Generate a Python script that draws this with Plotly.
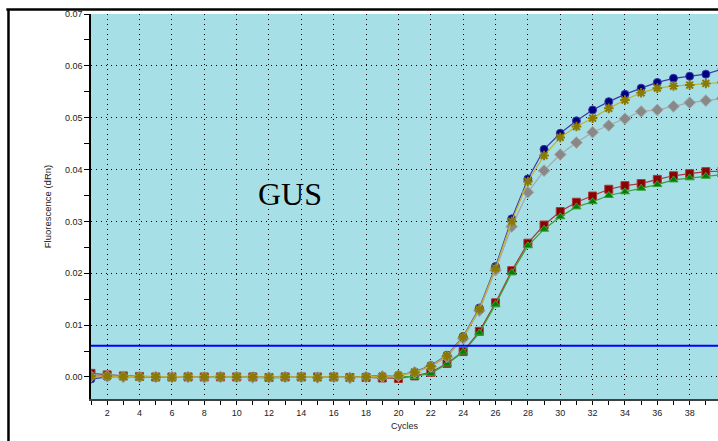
import plotly.graph_objects as go

cycles = list(range(1, 41))

blue = [-0.0004, 0.0000, 0.0001, 0.0000, -0.0001, 0.0000, 0.0001, 0.0000, 0.0001, 0.0000,
        0.0001, 0.0000, 0.0001, 0.0000, 0.0000, 0.0000, 0.0000, 0.0001, 0.0002, 0.0003,
        0.0010, 0.0022, 0.0042, 0.0078, 0.0133, 0.0213, 0.0305, 0.0382, 0.0439, 0.0470,
        0.0494, 0.0515, 0.0531, 0.0545, 0.0557, 0.0568, 0.0576, 0.0580, 0.0584, 0.0594]
olive = [0.0002, 0.0002, 0.0001, 0.0000, 0.0000, -0.0001, 0.0000, 0.0000, 0.0000, 0.0000,
         0.0000, -0.0001, 0.0000, 0.0000, -0.0001, 0.0000, -0.0001, 0.0000, 0.0001, 0.0003,
         0.0009, 0.0021, 0.0041, 0.0077, 0.0131, 0.0210, 0.0300, 0.0377, 0.0427, 0.0462,
         0.0483, 0.0499, 0.0518, 0.0534, 0.0548, 0.0557, 0.0561, 0.0563, 0.0566, 0.0568]
gray = [0.0001, 0.0001, 0.0000, 0.0000, 0.0000, 0.0000, 0.0000, -0.0001, 0.0000, 0.0000,
        -0.0001, -0.0001, 0.0000, 0.0000, -0.0001, 0.0000, -0.0002, 0.0000, 0.0001, 0.0002,
        0.0009, 0.0020, 0.0039, 0.0074, 0.0128, 0.0206, 0.0290, 0.0356, 0.0398, 0.0429,
        0.0452, 0.0472, 0.0485, 0.0498, 0.0512, 0.0515, 0.0522, 0.0529, 0.0533, 0.0537]
red = [0.0007, 0.0004, 0.0002, 0.0001, 0.0000, 0.0000, 0.0000, 0.0000, 0.0000, 0.0000,
       0.0000, -0.0001, 0.0000, 0.0000, 0.0000, 0.0000, -0.0001, -0.0001, -0.0002, -0.0003,
       0.0002, 0.0009, 0.0026, 0.0049, 0.0088, 0.0143, 0.0205, 0.0258, 0.0293, 0.0319,
       0.0337, 0.0349, 0.0362, 0.0369, 0.0373, 0.0381, 0.0388, 0.0392, 0.0396, 0.0397]
green = [0.0003, 0.0002, 0.0001, 0.0000, 0.0000, 0.0000, -0.0001, 0.0000, 0.0000, -0.0001,
         -0.0001, -0.0002, -0.0001, -0.0001, 0.0000, -0.0001, -0.0001, 0.0000, 0.0000, 0.0000,
         0.0001, 0.0007, 0.0025, 0.0048, 0.0085, 0.0140, 0.0201, 0.0253, 0.0285, 0.0309,
         0.0328, 0.0338, 0.0350, 0.0357, 0.0364, 0.0371, 0.0380, 0.0384, 0.0387, 0.0390]

threshold = 0.0060
label = "GUS"

series = [
    ("blue", blue, "#3a3aa8", "#000080", "circle", 8),
    ("red", red, "#a83a3a", "#8b0000", "square", 8),
    ("green", green, "#3aa03a", "#008000", "triangle-up", 8),
    ("gray", gray, "#a8a8a8", "#888888", "diamond", 9),
    ("olive", olive, "#c2b030", "#8a7a00", "asterisk-open", 8),
]

fig = go.Figure()
for name, vals, lc, mc, sym, sz in series:
    if sym == "asterisk-open":
        marker = dict(symbol=sym, size=sz, color=mc, line=dict(color=mc, width=2))
    else:
        marker = dict(symbol=sym, size=sz, color=mc, line=dict(color=lc, width=1))
    fig.add_trace(go.Scatter(x=cycles, y=vals, mode="lines+markers", name=name,
                             line=dict(color=lc, width=1.2), marker=marker,
                             showlegend=False, cliponaxis=True))

fig.add_hline(y=threshold, line=dict(color="#0000ff", width=2))

fig.add_annotation(x=0.317, y=0.0353, xref="paper", yref="y", text=label, showarrow=False,
                   xanchor="center", yanchor="middle",
                   font=dict(family="Liberation Serif, Times New Roman, serif", size=32, color="black"))

# outer frame
fig.add_shape(type="line", xref="paper", yref="paper", x0=-0.1316, x1=-0.1316, y0=-0.2, y1=1.0117,
              line=dict(color="black", width=2.5))
fig.add_shape(type="line", xref="paper", yref="paper", x0=-0.135, x1=1.05, y0=1.0117, y1=1.0117,
              line=dict(color="black", width=2.5))

tickfont = dict(family="Liberation Sans, Arial, sans-serif", size=9, color="#222222")

fig.update_layout(
    width=718, height=441,
    margin=dict(l=91, r=0, t=14, b=42, autoexpand=False),
    paper_bgcolor="white",
    plot_bgcolor="#a7dfe7",
    xaxis=dict(
        range=[1, 39.75], tick0=0, dtick=2, ticks="outside", ticklen=4, tickcolor="black",
        showgrid=True, gridcolor="black", gridwidth=1, griddash="1px,4px",
        showline=True, linecolor="#404040", linewidth=1.5, zeroline=False, automargin=False,
        tickfont=tickfont,
        minor=dict(dtick=1, tick0=0, ticks="outside", ticklen=4, tickcolor="black", showgrid=False),
        title=dict(text="Cycles", font=dict(family="Liberation Sans, Arial, sans-serif", size=9, color="#222222"),
                   standoff=6),
    ),
    yaxis=dict(
        range=[-0.00425, 0.07], tick0=0, dtick=0.01, tickformat=".2f", ticks="outside", ticklen=5,
        tickcolor="black",
        showgrid=True, gridcolor="black", gridwidth=1, griddash="1px,4px",
        showline=True, linecolor="black", linewidth=1.5, zeroline=False, automargin=False,
        tickfont=tickfont,
        minor=dict(dtick=0.005, tick0=0, ticks="outside", ticklen=5, tickcolor="black", showgrid=False),
        title=dict(text="Fluorescence (dRn)", font=dict(family="Liberation Sans, Arial, sans-serif", size=9.5, color="#222222"),
                   standoff=12),
    ),
)

fig.write_html("out.html", config={"displayModeBar": False},
               post_script="document.body.style.margin='0';document.body.style.overflow='hidden';")
